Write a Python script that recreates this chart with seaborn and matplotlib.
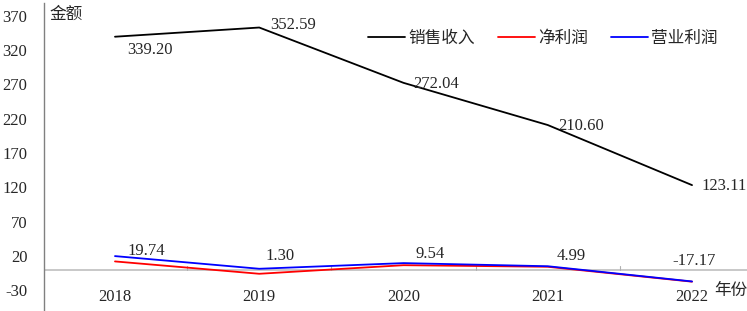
import numpy as np
import pandas as pd
import matplotlib
matplotlib.use('Agg')
import matplotlib.pyplot as plt
from matplotlib.lines import Line2D
import seaborn as sns

# data
years = ['2018', '2019', '2020', '2021', '2022']
sales = [339.20, 352.59, 272.04, 210.60, 123.11]
net_profit = [12.0, -6.0, 6.5, 4.2, -17.5]
op_profit = [19.74, 1.30, 9.54, 4.99, -17.17]
series_names = ['销售收入', '净利润', '营业利润']
y_ticks = [-30, 20, 70, 120, 170, 220, 270, 320, 370]

sns.set_style('white')
plt.rcParams['font.family'] = ['Liberation Serif', 'Noto Sans CJK SC']
plt.rcParams['axes.unicode_minus'] = False

df = pd.DataFrame({
    'pos': list(range(len(years))) * 3,
    'value': sales + net_profit + op_profit,
    'series': [series_names[0]] * 5 + [series_names[1]] * 5 + [series_names[2]] * 5,
})
colors = {'销售收入': '#000000', '净利润': '#ff0000', '营业利润': '#0000ff'}
fs = 12

W, H = 747, 311
fig = plt.figure(figsize=(W / 100, H / 100), dpi=100)
ax = fig.add_axes([44 / W, 0, 1 - 44 / W, 308 / H])

ax.axhline(0, color='#c8c8c8', lw=1.4, zorder=1)
sns.lineplot(data=df, x='pos', y='value', hue='series', palette=colors,
             linewidth=1.3, ax=ax, legend=False, zorder=3)

ax.set_xlim(-0.492, 4.381)
ax.set_ylim(-60.2, 388.3)

# value labels
sales_off = [(35, -13), (34, 3), (33, -1), (33, -1), (32, -1)]
op_off = [(31, 5), (21, 13), (27, 9), (23, 10), (2, 20)]
for i, v in enumerate(sales):
    ax.annotate(f'{v:.2f}', (i, v), xytext=sales_off[i], textcoords='offset pixels',
                ha='center', va='center', fontsize=fs)
for i, v in enumerate(op_profit):
    ax.annotate(f'{v:.2f}', (i, v), xytext=op_off[i], textcoords='offset pixels',
                ha='center', va='center', fontsize=fs)

# axes styling
for s in ['top', 'right', 'bottom']:
    ax.spines[s].set_visible(False)
ax.spines['left'].set_color('#808080')
ax.spines['left'].set_linewidth(1.0)
ax.set_yticks(y_ticks)
ax.tick_params(axis='y', direction='in', length=4, color='#a0a0a0', pad=12, labelsize=fs)
ax.set_xticks([])
ax.set_xlabel('')
ax.set_ylabel('')

# category labels sit below the plot, small ticks on the zero line
for i, y in enumerate(years):
    ax.text(i, -40.4, y, ha='center', va='center', fontsize=fs)
for b in [0.5, 1.5, 2.5, 3.5]:
    ax.plot([b, b], [0, 5], color='#b0b0b0', lw=0.8, zorder=1)

fig.text(66 / W, 1 - 15 / H, '金额', ha='center', va='center', fontsize=fs)
fig.text(731 / W, 1 - 291 / H, '年份', ha='center', va='center', fontsize=fs)

handles = [Line2D([0], [0], color=colors[n], lw=1.3) for n in series_names]
ax.legend(handles, series_names, ncol=3, frameon=False, loc='center',
          bbox_to_anchor=(543 / W, 1 - 39 / H), bbox_transform=fig.transFigure,
          fontsize=fs, handlelength=2.2, handletextpad=0.2, columnspacing=1.4)

fig.savefig('out.png', dpi=100)
